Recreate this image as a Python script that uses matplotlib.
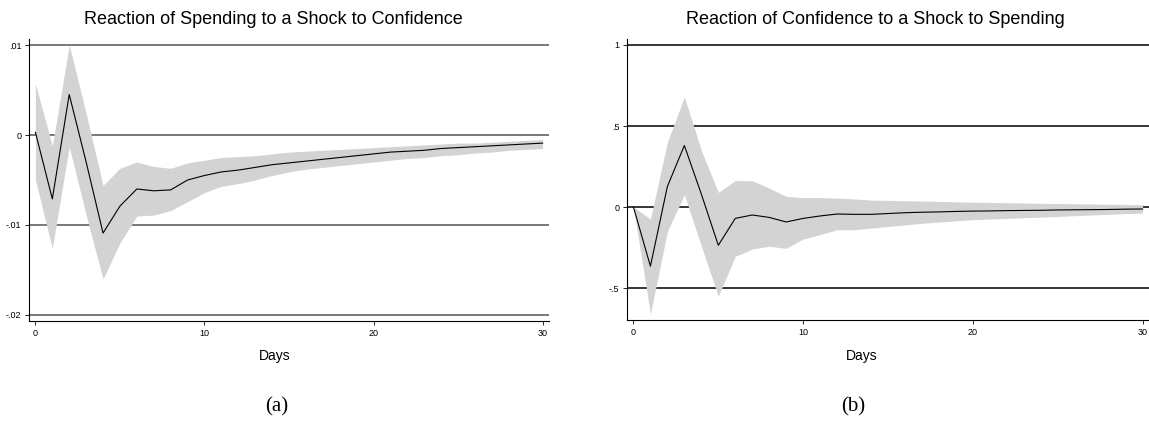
import matplotlib.pyplot as plt
import numpy as np

plt.rcParams['font.family'] = ['Liberation Sans', 'DejaVu Sans']

# horizon (days)
days = list(range(31))

# panel (a): response of spending to a confidence shock
irf_a = [0.0003, -0.0071, 0.0045, -0.0030, -0.0109, -0.0079, -0.0060, -0.0062, -0.0061, -0.0050,
         -0.0045, -0.0041, -0.0039, -0.0036, -0.0033, -0.0031, -0.0029, -0.0027, -0.0025, -0.0023,
         -0.0021, -0.0019, -0.0018, -0.0017, -0.0015, -0.0014, -0.0013, -0.0012, -0.0011, -0.0010, -0.0009]
upper_a = [0.0057, -0.0012, 0.0100, 0.0024, -0.0056, -0.0037, -0.0030, -0.0035, -0.0037, -0.0031,
           -0.0028, -0.0025, -0.0024, -0.0023, -0.0021, -0.0019, -0.0018, -0.0017, -0.0016, -0.0015,
           -0.0014, -0.0013, -0.0012, -0.0011, -0.0010, -0.0009, -0.0009, -0.0008, -0.0007, -0.0006, -0.0005]
lower_a = [-0.0050, -0.0126, -0.0013, -0.0089, -0.0160, -0.0120, -0.0090, -0.0089, -0.0084, -0.0074,
           -0.0064, -0.0057, -0.0054, -0.0050, -0.0045, -0.0041, -0.0038, -0.0036, -0.0034, -0.0032,
           -0.0030, -0.0028, -0.0026, -0.0025, -0.0023, -0.0022, -0.0020, -0.0019, -0.0017, -0.0016, -0.0015]

# panel (b): response of confidence to a spending shock
irf_b = [0.0, -0.365, 0.127, 0.380, 0.080, -0.236, -0.070, -0.049, -0.064, -0.092,
         -0.070, -0.055, -0.043, -0.045, -0.045, -0.040, -0.035, -0.032, -0.030, -0.027,
         -0.025, -0.024, -0.022, -0.021, -0.020, -0.018, -0.017, -0.016, -0.015, -0.013, -0.012]
upper_b = [0.0, -0.074, 0.400, 0.680, 0.350, 0.090, 0.164, 0.162, 0.117, 0.066,
           0.058, 0.058, 0.055, 0.050, 0.043, 0.041, 0.039, 0.037, 0.035, 0.032,
           0.030, 0.028, 0.027, 0.025, 0.023, 0.022, 0.020, 0.019, 0.017, 0.016, 0.014]
lower_b = [0.0, -0.660, -0.150, 0.076, -0.240, -0.550, -0.304, -0.259, -0.242, -0.255,
           -0.197, -0.170, -0.140, -0.140, -0.130, -0.120, -0.110, -0.100, -0.093, -0.085,
           -0.078, -0.074, -0.070, -0.066, -0.062, -0.058, -0.053, -0.049, -0.045, -0.041, -0.037]

yticks_a = [-0.02, -0.01, 0, 0.01]
ylabels_a = ['-.02', '-.01', '0', '.01']
yticks_b = [-0.5, 0, 0.5, 1]
ylabels_b = ['-.5', '0', '.5', '1']
xticks = [0, 10, 20, 30]

W, H = 1149, 423
fig = plt.figure(figsize=(W / 100, H / 100), dpi=100)


def panel(x0, x1, y0, y1, irf, lo, hi, yt, yl, ylim, gridcol, title, tx, letter, lx, dx):
    ax = fig.add_axes([x0 / W, 1 - y1 / H, (x1 - x0) / W, (y1 - y0) / H])
    for v in yt:
        ax.axhline(v, color=gridcol, lw=1.1, zorder=1)
    ax.fill_between(days, lo, hi, color='#d3d3d3', lw=0, zorder=2)
    ax.plot(days, irf, color='black', lw=0.8, zorder=3)
    ax.set_xlim(-0.38, 30.38)
    ax.set_ylim(*ylim)
    ax.set_yticks(yt)
    ax.set_yticklabels(yl)
    ax.set_xticks(xticks)
    ax.tick_params(labelsize=6.5, length=3, width=0.6, pad=2.5)
    for s in ['top', 'right']:
        ax.spines[s].set_visible(False)
    for s in ['left', 'bottom']:
        ax.spines[s].set_linewidth(0.8)
    fig.text(tx / W, 1 - 19 / H, title, ha='center', va='center', fontsize=13)
    fig.text(dx / W, 1 - 356 / H, 'Days', ha='center', va='center', fontsize=10)
    fig.text(lx / W, 1 - 407 / H, letter, ha='center', va='center', fontsize=15,
             family=['Liberation Serif', 'DejaVu Serif'])
    return ax


panel(29, 549, 39, 321, irf_a, lower_a, upper_a, yticks_a, ylabels_a, (-0.02067, 0.01067),
      '#555555', 'Reaction of Spending to a Shock to Confidence', 273, '(a)', 277, 275)
panel(627, 1149, 39, 320, irf_b, lower_b, upper_b, yticks_b, ylabels_b, (-0.697, 1.037),
      'black', 'Reaction of Confidence to a Shock to Spending', 875, '(b)', 853, 862)

fig.savefig('out.png', dpi=100)
